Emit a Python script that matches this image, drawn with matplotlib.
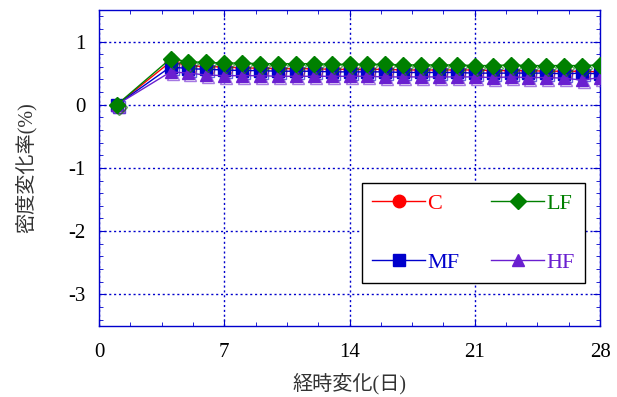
import matplotlib.pyplot as plt
from matplotlib.ticker import MultipleLocator
from matplotlib.transforms import offset_copy

plt.rcParams['font.family'] = ['Liberation Serif', 'Noto Sans CJK JP']
plt.rcParams['axes.unicode_minus'] = False

# 経過日数
days = [1] + list(range(4, 29))

# 密度変化率(%)
c_vals = [0.0, 0.68, 0.62, 0.60, 0.60, 0.58, 0.58, 0.57, 0.57, 0.57, 0.56, 0.56, 0.56,
          0.56, 0.55, 0.55, 0.55, 0.55, 0.55, 0.54, 0.54, 0.54, 0.53, 0.53, 0.53, 0.52]
lf_vals = [0.0, 0.73, 0.68, 0.67, 0.66, 0.66, 0.65, 0.65, 0.65, 0.65, 0.64, 0.64, 0.64,
           0.64, 0.63, 0.63, 0.63, 0.63, 0.62, 0.62, 0.63, 0.62, 0.62, 0.62, 0.62, 0.63]
mf_vals = [0.0, 0.60, 0.57, 0.56, 0.55, 0.54, 0.54, 0.53, 0.53, 0.53, 0.52, 0.52, 0.52,
           0.52, 0.51, 0.51, 0.51, 0.51, 0.50, 0.50, 0.50, 0.50, 0.50, 0.49, 0.50, 0.49]
hf_vals = [0.0, 0.52, 0.50, 0.47, 0.46, 0.46, 0.46, 0.45, 0.45, 0.45, 0.45, 0.45, 0.45,
           0.44, 0.44, 0.44, 0.44, 0.44, 0.44, 0.43, 0.44, 0.43, 0.43, 0.42, 0.39, 0.43]

# name, values, colour, marker, zorder
series = [
    ('C', c_vals, '#ff0000', 'o', 3),
    ('LF', lf_vals, '#008000', 'D', 6),
    ('MF', mf_vals, '#0000cc', 's', 4),
    ('HF', hf_vals, '#6a1fd0', '^', 5),
]

fig = plt.figure(figsize=(6.17, 3.97), dpi=100)
ax = fig.add_axes([0.1605, 0.179, 0.812, 0.796])

handles = {}
for name, vals, col, mk, z in series:
    ms = 8 if mk == 'D' else 9
    # open copy of the markers, shifted a little down-right
    shift = offset_copy(ax.transData, fig=fig, x=2, y=-2, units='dots')
    ax.plot(days, vals, color=col, lw=0, marker=mk, markersize=ms,
            markerfacecolor='none', markeredgecolor=col, markeredgewidth=1.0,
            alpha=0.6, transform=shift, zorder=z)
    h, = ax.plot(days, vals, color=col, lw=1.0, marker=mk, markersize=ms,
                 markerfacecolor=col, markeredgecolor=col, label=name, zorder=z)
    handles[name] = h

ax.set_xlim(0, 28)
ax.set_ylim(-3.5, 1.5)
ax.xaxis.set_major_locator(MultipleLocator(7))
ax.xaxis.set_minor_locator(MultipleLocator(1.75))
ax.yaxis.set_major_locator(MultipleLocator(1))
ax.yaxis.set_minor_locator(MultipleLocator(0.2))

axis_col = '#0000cc'
for sp in ax.spines.values():
    sp.set_color(axis_col)
    sp.set_linewidth(1.0)
ax.tick_params(which='both', direction='in', top=True, right=True, colors=axis_col,
               labelcolor='black', labelsize=15)
ax.tick_params(which='major', length=5)
ax.tick_params(axis='x', which='major', pad=12)
ax.tick_params(axis='y', which='major', pad=10)
ax.tick_params(which='minor', length=3)
ax.grid(True, which='major', color=axis_col, linestyle=(0, (1.5, 2)), linewidth=1.0)

ax.set_xlabel('経時変化(日)', fontsize=14.5, color='#333333', labelpad=8)
ax.set_ylabel('密度変化率(%)', fontsize=14.5, color='#333333', labelpad=22)

# column-major fill: C/MF in the first column, LF/HF in the second
order = ['C', 'MF', 'LF', 'HF']
leg = ax.legend([handles[n] for n in order], order, ncol=2, loc='lower left',
                bbox_to_anchor=(0.525, 0.136, 0.445, 0.313), mode='expand',
                fontsize=16, frameon=True, fancybox=False, edgecolor='black',
                framealpha=1, labelspacing=1.75, handlelength=2.4,
                handletextpad=0.1, borderpad=0.45, borderaxespad=0)
leg.get_frame().set_linewidth(1.0)
leg.set_zorder(10)
colours = {n: c for n, _, c, _, _ in series}
for txt, n in zip(leg.get_texts(), order):
    txt.set_color(colours[n])

fig.savefig('out.png', dpi=100)
